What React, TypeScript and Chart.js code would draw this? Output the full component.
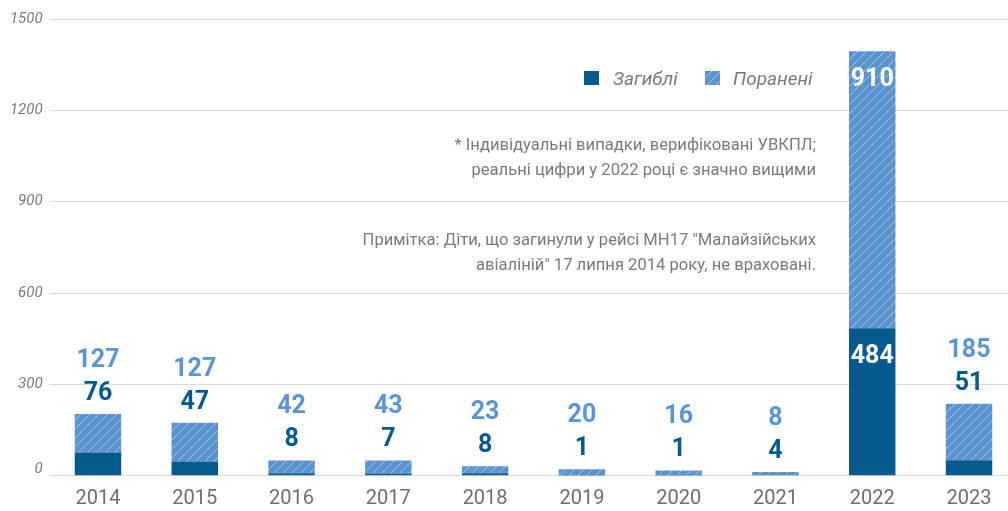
import React, { useEffect, useRef } from 'react';
import { Chart, registerables } from 'chart.js';

Chart.register(...registerables);

const years = ['2014', '2015', '2016', '2017', '2018', '2019', '2020', '2021', '2022', '2023'];
const killed = [76, 47, 8, 7, 8, 1, 1, 4, 484, 51];
const injured = [127, 127, 42, 43, 23, 20, 16, 8, 910, 185];
const yTickValues = [0, 300, 600, 900, 1200, 1500];
const seriesNames = ['Загиблі', 'Поранені'];
const note1 = ['* Індивідуальні випадки, верифіковані УВКПЛ;', 'реальні цифри у 2022 році є значно вищими'];
const note2 = ['Примітка: Діти, що загинули у рейсі МН17 "Малайзійських', 'авіаліній" 17 липня 2014 року, не враховані.'];

const DARK = '#045a8e';
const LIGHT = '#5b93cf';
const LABEL_LIGHT = '#5b95d3';
const GRAY = '#7a7a7a';

function makeHatch(): CanvasPattern | string {
  const size = 9;
  const c = document.createElement('canvas');
  c.width = size;
  c.height = size;
  const g = c.getContext('2d');
  if (!g) return LIGHT;
  g.fillStyle = LIGHT;
  g.fillRect(0, 0, size, size);
  g.strokeStyle = 'rgba(255,255,255,0.45)';
  g.lineWidth = 1;
  g.beginPath();
  g.moveTo(0, size);
  g.lineTo(size, 0);
  g.moveTo(-1, 1);
  g.lineTo(1, -1);
  g.moveTo(size - 1, size + 1);
  g.lineTo(size + 1, size - 1);
  g.stroke();
  const p = g.createPattern(c, 'repeat');
  return p || LIGHT;
}

export default function App() {
  const ref = useRef<HTMLCanvasElement | null>(null);

  useEffect(() => {
    if (!ref.current) return;
    const hatch = makeHatch();

    const overlay = {
      id: 'overlay',
      afterDatasetsDraw(chart: any) {
        const ctx = chart.ctx as CanvasRenderingContext2D;
        const m0 = chart.getDatasetMeta(0);
        const m1 = chart.getDatasetMeta(1);
        ctx.save();
        const fs = 25;
        ctx.font = `bold ${fs}px Roboto`;
        ctx.textAlign = 'center';
        ctx.textBaseline = 'alphabetic';
        const off = fs * 0.355;
        years.forEach((_, i) => {
          const b0 = m0.data[i];
          const b1 = m1.data[i];
          const x = b0.x;
          const inside = b1.base - b1.y > 80;
          if (inside) {
            ctx.fillStyle = '#ffffff';
            ctx.fillText(String(killed[i]), x, b0.y + 26 + off);
            ctx.fillText(String(injured[i]), x, b1.y + 26 + off);
          } else {
            const ky = b1.y - 23;
            ctx.fillStyle = DARK;
            ctx.fillText(String(killed[i]), x, ky + off);
            ctx.fillStyle = LABEL_LIGHT;
            ctx.fillText(String(injured[i]), x, ky - 33 + off);
          }
        });

        // zero tick label (raised slightly above its gridline)
        const ys = chart.scales.y;
        ctx.font = 'italic 15px Roboto';
        ctx.fillStyle = GRAY;
        ctx.textAlign = 'right';
        ctx.fillText('0', ys.right - 7, ys.getPixelForValue(0) - 3);

        // legend
        ctx.textAlign = 'left';
        ctx.font = 'italic 19px Roboto';
        const ly = 78;
        ctx.fillStyle = DARK;
        ctx.fillRect(584, ly - 7, 15, 14);
        ctx.fillStyle = GRAY;
        ctx.fillText(seriesNames[0], 613, ly + 7);
        ctx.fillStyle = hatch as any;
        ctx.fillRect(705, ly - 7, 15, 14);
        ctx.fillStyle = GRAY;
        ctx.fillText(seriesNames[1], 733, ly + 7);

        // notes
        ctx.textAlign = 'right';
        ctx.font = '16.6px Roboto';
        ctx.fillStyle = GRAY;
        ctx.fillText(note1[0], 816, 150);
        ctx.fillText(note1[1], 816, 175);
        ctx.fillText(note2[0], 816, 245);
        ctx.fillText(note2[1], 816, 270);
        ctx.restore();
      },
    };

    const chart = new Chart(ref.current, {
      type: 'bar',
      data: {
        labels: years,
        datasets: [
          {
            label: seriesNames[0],
            data: killed,
            backgroundColor: DARK,
            borderWidth: 0,
            barPercentage: 0.48,
            categoryPercentage: 1,
          },
          {
            label: seriesNames[1],
            data: injured,
            backgroundColor: hatch as any,
            borderWidth: 0,
            barPercentage: 0.48,
            categoryPercentage: 1,
          },
        ],
      },
      options: {
        responsive: false,
        animation: false,
        devicePixelRatio: 1,
        layout: { padding: { top: 19, right: 2.6, left: 0, bottom: 0 } },
        plugins: {
          legend: { display: false },
          tooltip: { enabled: false },
        },
        scales: {
          x: {
            stacked: true,
            offset: true,
            grid: { display: false, drawTicks: false },
            border: { display: false },
            ticks: {
              color: '#6e6e6e',
              font: { family: 'Roboto', size: 20 },
              padding: 11,
              maxRotation: 0,
              autoSkip: false,
            },
            afterFit(scale: any) {
              scale.height = 35.3;
            },
          },
          y: {
            stacked: true,
            min: 0,
            max: 1500,
            afterBuildTicks(scale: any) {
              scale.ticks = yTickValues.map((v) => ({ value: v }));
            },
            grid: { color: '#dadada', lineWidth: 1, drawTicks: false },
            border: { display: false },
            ticks: {
              color: GRAY,
              font: { family: 'Roboto', size: 15, style: 'italic' },
              padding: 7,
              callback: (v: any) => (Number(v) === 0 ? '' : String(v)),
            },
            afterFit(scale: any) {
              scale.width = 49.6;
            },
          },
        },
      },
      plugins: [overlay],
    });

    return () => chart.destroy();
  }, []);

  return (
    <div
      style={{
        position: 'fixed',
        left: 0,
        top: 0,
        width: 1008,
        height: 511,
        overflow: 'hidden',
        background: '#ffffff',
      }}
    >
      <canvas ref={ref} width={1020} height={511} style={{ display: 'block' }} />
    </div>
  );
}
